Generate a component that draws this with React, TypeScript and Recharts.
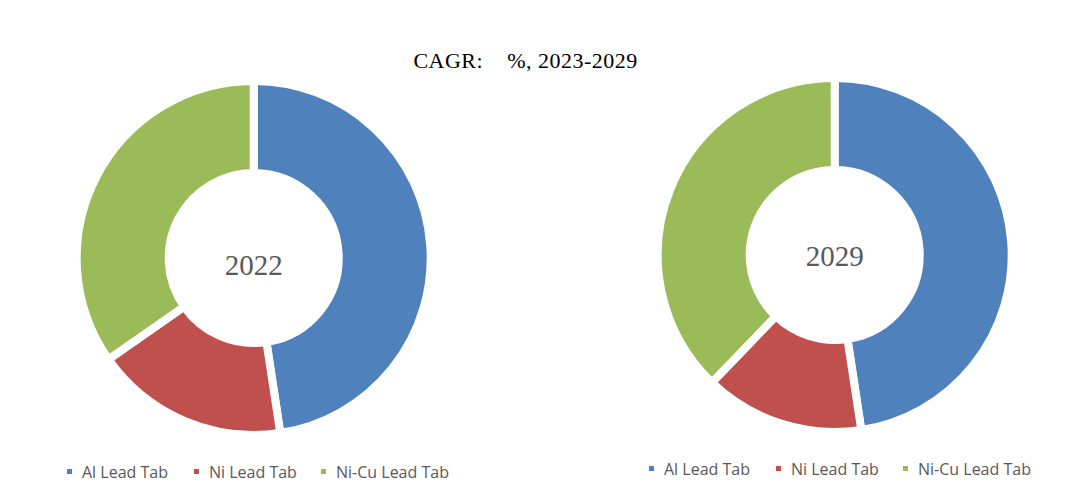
import React from "react"
import { PieChart, Pie, Cell, Legend } from "recharts"

const categories = ["Al Lead Tab", "Ni Lead Tab", "Ni-Cu Lead Tab"]
const share2022 = [47.6, 17.7, 34.7]
const share2029 = [47.6, 14.6, 37.8]
const years = ["2022", "2029"]
const colors = ["#4F81BD", "#C0504D", "#9BBB59"]

const data2022 = categories.map((name, i) => ({ name, value: share2022[i] }))
const data2029 = categories.map((name, i) => ({ name, value: share2029[i] }))

const legendOffsets = [0, 127, 254]
const noMargin = { top: 0, right: 0, bottom: 0, left: 0 }

function renderLegend(props: any) {
  const items = props.payload || []
  return (
    <div style={{ position: "relative", height: 20 }}>
      {items.map((entry: any, i: number) => (
        <div
          key={entry.value}
          style={{
            position: "absolute",
            left: legendOffsets[i],
            top: 0,
            display: "flex",
            alignItems: "center",
            height: 20,
            whiteSpace: "nowrap",
          }}
        >
          <span style={{ width: 5, height: 5, background: entry.color, marginRight: 10, display: "inline-block" }} />
          <span style={{ fontFamily: "'Open Sans', sans-serif", fontSize: 16, lineHeight: "20px", color: "#595959" }}>
            {entry.value}
          </span>
        </div>
      ))}
    </div>
  )
}

export default function App() {
  const serif = { fontFamily: "'Liberation Serif', serif" }
  return (
    <div style={{ position: "relative", width: 1073, height: 486, background: "#fff" }}>
      {/* 2022 donut */}
      <div style={{ position: "absolute", left: 0, top: 0 }}>
        <PieChart width={536} height={486} margin={noMargin}>
          <Pie
            data={data2022}
            dataKey="value"
            nameKey="name"
            cx={245.7}
            cy={250}
            startAngle={90}
            endAngle={-270}
            innerRadius={85}
            outerRadius={177}
            stroke="#fff"
            strokeWidth={8}
            isAnimationActive={false}
          >
            {data2022.map((d, i) => (
              <Cell key={d.name} fill={colors[i]} />
            ))}
          </Pie>
          <Legend content={renderLegend} wrapperStyle={{ left: 59, top: 453.5, width: 420, bottom: "auto" }} />
        </PieChart>
      </div>

      {/* 2029 donut */}
      <div style={{ position: "absolute", left: 536, top: 0 }}>
        <PieChart width={537} height={486} margin={noMargin}>
          <Pie
            data={data2029}
            dataKey="value"
            nameKey="name"
            cx={290.7}
            cy={247}
            startAngle={90}
            endAngle={-270}
            innerRadius={85}
            outerRadius={177}
            stroke="#fff"
            strokeWidth={8}
            isAnimationActive={false}
          >
            {data2029.map((d, i) => (
              <Cell key={d.name} fill={colors[i]} />
            ))}
          </Pie>
          <Legend content={renderLegend} wrapperStyle={{ left: 105, top: 450.5, width: 420, bottom: "auto" }} />
        </PieChart>
      </div>

      {/* title and centre labels */}
      <svg
        width={1073}
        height={486}
        style={{ position: "absolute", left: 0, top: 0, pointerEvents: "none" }}
      >
        <text
          x={517.6}
          y={60}
          textAnchor="middle"
          fill="#000"
          style={{ ...serif, fontSize: 22, letterSpacing: 0.5, whiteSpace: "pre" }}
        >
          {"CAGR:    %, 2023-2029"}
        </text>
        <text x={245.7} y={267} textAnchor="middle" fill="#595959" style={{ ...serif, fontSize: 29 }}>
          {years[0]}
        </text>
        <text x={826.7} y={258} textAnchor="middle" fill="#595959" style={{ ...serif, fontSize: 29 }}>
          {years[1]}
        </text>
      </svg>
    </div>
  )
}
